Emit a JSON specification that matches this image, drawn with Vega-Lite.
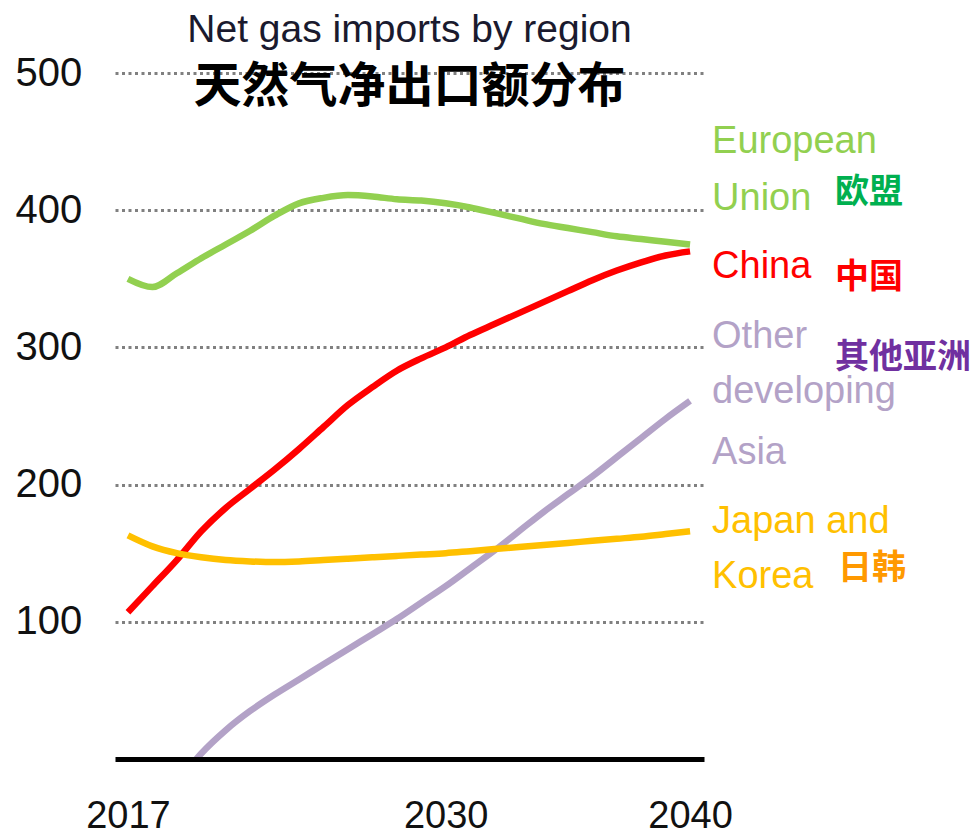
{
  "$schema": "https://vega.github.io/schema/vega-lite/v6.json",
  "autosize": {"type": "none"},
  "width": 589,
  "height": 686,
  "padding": {"left": 115, "top": 73, "right": 270, "bottom": 78},
  "background": "white",
  "title": {
    "text": "Net gas imports by region",
    "subtitle": "天然气净出口额分布",
    "anchor": "middle",
    "frame": "group",
    "offset": -59,
    "subtitlePadding": 14,
    "font": "Liberation Sans",
    "fontSize": 39,
    "fontWeight": "normal",
    "color": "#1a1a2e",
    "subtitleFont": "Noto Sans CJK SC",
    "subtitleFontSize": 48,
    "subtitleFontWeight": "bold",
    "subtitleColor": "#000000"
  },
  "config": {
    "view": {"stroke": null},
    "axis": {"labelFont": "Liberation Sans", "labelFontSize": 40, "labelColor": "#111111"}
  },
  "datasets": {
    "series": [
      {"region": "European Union", "year": 2017, "value": 350},
      {"region": "European Union", "year": 2018, "value": 344},
      {"region": "European Union", "year": 2019, "value": 354},
      {"region": "European Union", "year": 2020, "value": 365},
      {"region": "European Union", "year": 2021, "value": 375},
      {"region": "European Union", "year": 2022, "value": 385},
      {"region": "European Union", "year": 2023, "value": 396},
      {"region": "European Union", "year": 2024, "value": 405},
      {"region": "European Union", "year": 2025, "value": 409},
      {"region": "European Union", "year": 2026, "value": 411},
      {"region": "European Union", "year": 2027, "value": 410},
      {"region": "European Union", "year": 2028, "value": 408},
      {"region": "European Union", "year": 2029, "value": 407},
      {"region": "European Union", "year": 2030, "value": 405},
      {"region": "European Union", "year": 2031, "value": 402},
      {"region": "European Union", "year": 2032, "value": 398},
      {"region": "European Union", "year": 2033, "value": 394},
      {"region": "European Union", "year": 2034, "value": 390},
      {"region": "European Union", "year": 2035, "value": 387},
      {"region": "European Union", "year": 2036, "value": 384},
      {"region": "European Union", "year": 2037, "value": 381},
      {"region": "European Union", "year": 2038, "value": 379},
      {"region": "European Union", "year": 2039, "value": 377},
      {"region": "European Union", "year": 2040, "value": 375},
      {"region": "China", "year": 2017, "value": 107},
      {"region": "China", "year": 2018, "value": 126},
      {"region": "China", "year": 2019, "value": 145},
      {"region": "China", "year": 2020, "value": 166},
      {"region": "China", "year": 2021, "value": 183},
      {"region": "China", "year": 2022, "value": 197},
      {"region": "China", "year": 2023, "value": 211},
      {"region": "China", "year": 2024, "value": 226},
      {"region": "China", "year": 2025, "value": 242},
      {"region": "China", "year": 2026, "value": 258},
      {"region": "China", "year": 2027, "value": 271},
      {"region": "China", "year": 2028, "value": 283},
      {"region": "China", "year": 2029, "value": 292},
      {"region": "China", "year": 2030, "value": 300},
      {"region": "China", "year": 2031, "value": 309},
      {"region": "China", "year": 2032, "value": 317},
      {"region": "China", "year": 2033, "value": 325},
      {"region": "China", "year": 2034, "value": 333},
      {"region": "China", "year": 2035, "value": 341},
      {"region": "China", "year": 2036, "value": 349},
      {"region": "China", "year": 2037, "value": 356},
      {"region": "China", "year": 2038, "value": 362},
      {"region": "China", "year": 2039, "value": 367},
      {"region": "China", "year": 2040, "value": 370},
      {"region": "Other developing Asia", "year": 2019, "value": -18},
      {"region": "Other developing Asia", "year": 2020, "value": 4},
      {"region": "Other developing Asia", "year": 2021, "value": 21},
      {"region": "Other developing Asia", "year": 2022, "value": 35},
      {"region": "Other developing Asia", "year": 2023, "value": 47},
      {"region": "Other developing Asia", "year": 2024, "value": 58},
      {"region": "Other developing Asia", "year": 2025, "value": 69},
      {"region": "Other developing Asia", "year": 2026, "value": 80},
      {"region": "Other developing Asia", "year": 2027, "value": 91},
      {"region": "Other developing Asia", "year": 2028, "value": 102},
      {"region": "Other developing Asia", "year": 2029, "value": 114},
      {"region": "Other developing Asia", "year": 2030, "value": 126},
      {"region": "Other developing Asia", "year": 2031, "value": 139},
      {"region": "Other developing Asia", "year": 2032, "value": 152},
      {"region": "Other developing Asia", "year": 2033, "value": 166},
      {"region": "Other developing Asia", "year": 2034, "value": 180},
      {"region": "Other developing Asia", "year": 2035, "value": 193},
      {"region": "Other developing Asia", "year": 2036, "value": 206},
      {"region": "Other developing Asia", "year": 2037, "value": 220},
      {"region": "Other developing Asia", "year": 2038, "value": 234},
      {"region": "Other developing Asia", "year": 2039, "value": 248},
      {"region": "Other developing Asia", "year": 2040, "value": 261},
      {"region": "Japan and Korea", "year": 2017, "value": 163},
      {"region": "Japan and Korea", "year": 2018, "value": 155},
      {"region": "Japan and Korea", "year": 2019, "value": 150},
      {"region": "Japan and Korea", "year": 2020, "value": 147},
      {"region": "Japan and Korea", "year": 2021, "value": 145},
      {"region": "Japan and Korea", "year": 2022, "value": 144},
      {"region": "Japan and Korea", "year": 2023, "value": 143.5},
      {"region": "Japan and Korea", "year": 2024, "value": 144},
      {"region": "Japan and Korea", "year": 2025, "value": 145},
      {"region": "Japan and Korea", "year": 2026, "value": 146},
      {"region": "Japan and Korea", "year": 2027, "value": 147},
      {"region": "Japan and Korea", "year": 2028, "value": 148},
      {"region": "Japan and Korea", "year": 2029, "value": 149},
      {"region": "Japan and Korea", "year": 2030, "value": 150},
      {"region": "Japan and Korea", "year": 2031, "value": 151.5},
      {"region": "Japan and Korea", "year": 2032, "value": 153},
      {"region": "Japan and Korea", "year": 2033, "value": 154.5},
      {"region": "Japan and Korea", "year": 2034, "value": 156},
      {"region": "Japan and Korea", "year": 2035, "value": 157.5},
      {"region": "Japan and Korea", "year": 2036, "value": 159},
      {"region": "Japan and Korea", "year": 2037, "value": 160.5},
      {"region": "Japan and Korea", "year": 2038, "value": 162},
      {"region": "Japan and Korea", "year": 2039, "value": 164},
      {"region": "Japan and Korea", "year": 2040, "value": 166}
    ],
    "enlabels": [
      {"text": "European", "key": "European Union", "year": 2040.9, "value": 449.7},
      {"text": "Union", "key": "European Union", "year": 2040.9, "value": 408},
      {"text": "China", "key": "China", "year": 2040.9, "value": 358.5},
      {"text": "Other", "key": "Other developing Asia", "year": 2040.9, "value": 307.8},
      {"text": "developing", "key": "Other developing Asia", "year": 2040.9, "value": 267.3},
      {"text": "Asia", "key": "Other developing Asia", "year": 2040.9, "value": 222.8},
      {"text": "Japan and", "key": "Japan and Korea", "year": 2040.9, "value": 172.5},
      {"text": "Korea", "key": "Japan and Korea", "year": 2040.9, "value": 132.4}
    ],
    "zhlabels": [
      {"text": "欧盟", "key": "欧盟", "year": 2045.93, "value": 412.5},
      {"text": "中国", "key": "中国", "year": 2045.93, "value": 350.5},
      {"text": "其他亚洲", "key": "其他亚洲", "year": 2045.93, "value": 292},
      {"text": "日韩", "key": "日韩", "year": 2046.05, "value": 138.2}
    ]
  },
  "encoding": {
    "x": {
      "field": "year", "type": "quantitative",
      "scale": {"domain": [2016.47, 2040.57], "nice": false, "zero": false},
      "axis": {
        "title": null, "values": [2017, 2030, 2040], "format": "d",
        "grid": false, "ticks": false, "tickSize": 0,
        "domain": true, "domainColor": "#000000", "domainWidth": 5,
        "labelFontSize": 38, "labelBaseline": "middle", "labelPadding": 57, "labelFlush": false,
        "zindex": 1
      }
    },
    "y": {
      "field": "value", "type": "quantitative",
      "scale": {"domain": [0, 500], "nice": false},
      "axis": {
        "title": null, "values": [100, 200, 300, 400, 500],
        "grid": true, "gridColor": "#808080", "gridWidth": 3, "gridDash": [3, 3.5],
        "ticks": false, "tickSize": 0, "domain": false,
        "labelAlign": "left", "labelBaseline": "middle", "labelPadding": 100, "labelFlush": false
      }
    },
    "color": {
      "field": "key", "type": "nominal", "legend": null,
      "scale": {
        "domain": ["European Union", "China", "Other developing Asia", "Japan and Korea", "欧盟", "中国", "其他亚洲", "日韩"],
        "range": ["#92D050", "#FF0000", "#B3A2C7", "#FFC000", "#00B050", "#FF0000", "#7030A0", "#FF9900"]
      }
    }
  },
  "layer": [
    {
      "data": {"name": "series"},
      "transform": [{"calculate": "datum.region", "as": "key"}],
      "mark": {"type": "line", "strokeWidth": 6.5, "interpolate": "monotone", "clip": true},
      "encoding": {"detail": {"field": "region"}}
    },
    {
      "data": {"name": "enlabels"},
      "mark": {"type": "text", "align": "left", "baseline": "middle", "font": "Liberation Sans", "fontSize": 38},
      "encoding": {"text": {"field": "text"}}
    },
    {
      "data": {"name": "zhlabels"},
      "mark": {"type": "text", "align": "left", "baseline": "middle", "font": "Noto Sans CJK SC", "fontWeight": "bold", "fontSize": 34},
      "encoding": {"text": {"field": "text"}}
    }
  ]
}
